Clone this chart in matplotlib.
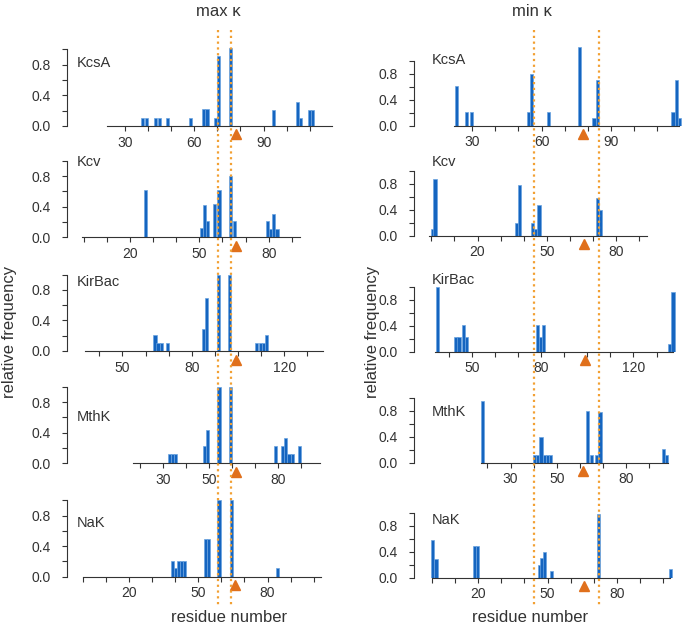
import math
import matplotlib
matplotlib.use('Agg')
import matplotlib.pyplot as plt
from matplotlib.lines import Line2D
from matplotlib.transforms import ScaledTranslation

plt.rcParams['font.family'] = ['Liberation Sans', 'DejaVu Sans']

proteins = ['KcsA', 'Kcv', 'KirBac', 'MthK', 'NaK']
tick_labels = [[30, 60, 90], [20, 50, 80], [50, 80, 120], [30, 50, 80], [20, 50, 80]]
residue_range = [(22, 119.5), (-1, 93.5), (34, 137), (17, 98), (0, 103)]
filter_res = [78, 66, 99, 61.5, 66]   # orange triangle

# ---- max kappa (left column): residue, relative frequency
kcsa_max_res = [37.6, 39.4, 43.4, 44.8, 48.3, 58.5, 64.1, 65.5, 69.1, 70.4, 75.6, 94.3, 104.6, 105.9, 109.7, 111.1]
kcsa_max_freq = [0.11, 0.11, 0.11, 0.11, 0.11, 0.11, 0.22, 0.22, 0.11, 0.92, 1.02, 0.21, 0.32, 0.11, 0.21, 0.21]
kcv_max_res = [26.8, 50.9, 52.3, 53.7, 56.7, 58.5, 63.4, 65.2, 79.4, 80.8, 82.2, 83.6]
kcv_max_freq = [0.62, 0.12, 0.42, 0.21, 0.43, 0.62, 0.80, 0.21, 0.21, 0.11, 0.31, 0.11]
kirbac_max_res = [64.1, 65.4, 66.8, 69.4, 85.2, 86.5, 91.5, 96.3, 108.0, 109.9, 111.2, 112.5]
kirbac_max_freq = [0.21, 0.11, 0.11, 0.11, 0.29, 0.69, 1.0, 1.0, 0.11, 0.11, 0.11, 0.21]
mthk_max_res = [32.7, 34.0, 35.3, 47.9, 49.2, 54.3, 59.3, 78.9, 81.8, 83.2, 84.6, 86.0, 89.1]
mthk_max_freq = [0.12, 0.12, 0.12, 0.22, 0.44, 1.0, 1.0, 0.22, 0.22, 0.33, 0.12, 0.12, 0.22]
nak_max_res = [38.8, 40.2, 41.5, 42.85, 44.2, 53.1, 54.5, 59.0, 64.4, 84.2]
nak_max_freq = [0.2, 0.11, 0.2, 0.2, 0.2, 0.49, 0.49, 1.0, 1.0, 0.11]

# ---- min kappa (right column)
kcsa_min_res = [23.2, 27.6, 29.7, 54.2, 55.6, 63.2, 76.3, 82.7, 84.1, 116.9, 118.25, 119.6]
kcsa_min_freq = [0.61, 0.21, 0.21, 0.21, 0.80, 0.21, 1.21, 0.12, 0.71, 0.21, 0.70, 0.12]
kcv_min_res = [0.4, 1.6, 36.8, 38.1, 43.7, 45.2, 46.6, 71.9, 73.2]
kcv_min_freq = [0.11, 0.87, 0.2, 0.79, 0.2, 0.11, 0.47, 0.59, 0.40]
kirbac_min_res = [35.2, 43.2, 44.5, 46.3, 47.7, 78.5, 79.8, 81.1, 135.8, 137.1]
kirbac_min_freq = [1.0, 0.22, 0.22, 0.41, 0.22, 0.41, 0.22, 0.41, 0.12, 0.92]
mthk_min_res = [17.7, 40.3, 41.6, 43.2, 44.6, 45.95, 47.3, 63.3, 65.2, 67.4, 68.7, 96.3, 97.4]
mthk_min_freq = [0.96, 0.12, 0.12, 0.40, 0.12, 0.12, 0.12, 0.80, 0.12, 0.12, 0.78, 0.21, 0.12]
nak_min_res = [0.3, 1.7, 18.3, 19.6, 46.4, 47.6, 48.8, 51.9, 72.1, 103.3]
nak_min_freq = [0.59, 0.29, 0.49, 0.49, 0.2, 0.3, 0.39, 0.1, 0.99, 0.13]

max_data = [(kcsa_max_res, kcsa_max_freq), (kcv_max_res, kcv_max_freq),
            (kirbac_max_res, kirbac_max_freq), (mthk_max_res, mthk_max_freq),
            (nak_max_res, nak_max_freq)]
min_data = [(kcsa_min_res, kcsa_min_freq), (kcv_min_res, kcv_min_freq),
            (kirbac_min_res, kirbac_min_freq), (mthk_min_res, mthk_min_freq),
            (nak_min_res, nak_min_freq)]

BLUE = '#1565c0'
EDGE = '#6aa3df'
DOT = '#f2a033'
TRI = '#e0701c'
INK = '#333333'

W, H = 685, 627
PX_PER_RES = 2.31
AX_W = 268


def fx(px):
    return px / W


def fy(py):
    return 1 - py / H


columns = [
    dict(title='max κ', title_x=218, xlabel_x=229, ylabel_x=10, spine_x=67, unit=76.5, ytop=1.05,
         zero=[126, 237.3, 351, 463.3, 576.7], x0=[4.9, -7.3, 26.0, -11.5, -6.8],
         lines=[70.3, 75.9], data=max_data, label_x=77,
         label_y=[63, 162.5, 282.5, 416.7, 523]),
    dict(title='min κ', title_x=532, xlabel_x=530, ylabel_x=372, spine_x=414, unit=64.7, ytop=1.25,
         zero=[125.7, 235.7, 351.7, 462.7, 577.7], x0=[4.8, -7.5, 25.0, -11.8, -7.8],
         lines=[56.75, 84.9], data=min_data, label_x=432,
         label_y=[60, 162.5, 280, 412, 520.5]),
]

fig = plt.figure(figsize=(6.85, 6.27), dpi=100)

for col in columns:
    top_ax = None
    for i, name in enumerate(proteins):
        hgt = col['ytop'] * col['unit']
        ax = fig.add_axes([fx(col['spine_x']), fy(col['zero'][i]), AX_W / W, hgt / H])
        ax.patch.set_alpha(0)
        res, freq = col['data'][i]
        ax.bar(res, freq, width=1.35, color=BLUE, edgecolor=EDGE, linewidth=0.5, zorder=2)
        ax.set_xlim(col['x0'][i], col['x0'][i] + AX_W / PX_PER_RES)
        ax.set_ylim(0, col['ytop'])

        for s in ['top', 'right']:
            ax.spines[s].set_visible(False)
        lo, hi = residue_range[i]
        ax.spines['left'].set_bounds(0, 1.0)
        ax.spines['bottom'].set_bounds(lo, hi)
        for s in ['left', 'bottom']:
            ax.spines[s].set_color(INK)
            ax.spines[s].set_linewidth(0.8)

        majors = tick_labels[i]
        minors = [t for t in range(int(math.ceil(lo / 10.0)) * 10, int(hi) + 1, 10) if t not in majors]
        ax.set_xticks(majors)
        ax.set_xticks(minors, minor=True)
        ax.set_yticks([0, 0.4, 0.8])
        ax.set_yticklabels(['0.0', '0.4', '0.8'])
        ax.set_yticks([0.2, 0.6, 1.0], minor=True)
        ax.tick_params(which='both', direction='out', length=3.5, width=0.8, color=INK,
                       labelsize=10, labelcolor=INK)
        ax.tick_params(axis='y', which='both', pad=8)
        ax.tick_params(axis='x', which='both', pad=3.5)

        off = ax.transData + ScaledTranslation(0, -8.5 / 100, fig.dpi_scale_trans)
        ax.plot([filter_res[i]], [0], linestyle='none', marker='^', ms=7, color=TRI,
                transform=off, clip_on=False, zorder=5)

        fig.text(fx(col['label_x']), fy(col['label_y'][i]), name, ha='left', va='center',
                 fontsize=10.5, color=INK)
        if top_ax is None:
            top_ax = ax

    inv = fig.transFigure.inverted()
    for r in col['lines']:
        xd = top_ax.transData.transform((r, 0))[0]
        xf = inv.transform((xd, 0))[0]
        fig.add_artist(Line2D([xf, xf], [fy(30), fy(606)], transform=fig.transFigure,
                              color=DOT, lw=1.6, linestyle=(0, (1, 1.6)), zorder=3))

    fig.text(fx(col['title_x']), fy(12), col['title'], ha='center', va='center', fontsize=12, color=INK)
    fig.text(fx(col['xlabel_x']), fy(617), 'residue number', ha='center', va='center', fontsize=12, color=INK)
    fig.text(fx(col['ylabel_x']), fy(332), 'relative frequency', ha='center', va='center',
             rotation=90, fontsize=12, color=INK)

fig.savefig('out.png', dpi=100)
